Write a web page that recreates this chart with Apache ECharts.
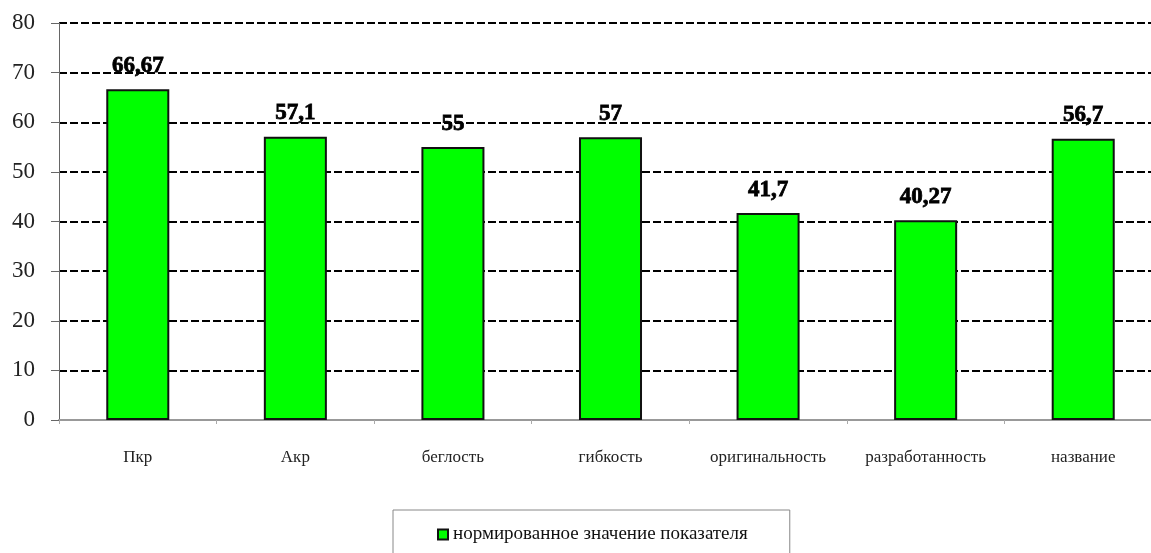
<!DOCTYPE html>
<html><head><meta charset="utf-8">
<script src="https://cdn.jsdelivr.net/npm/echarts@6/dist/echarts.min.js"></script>
<style>html,body{margin:0;padding:0;background:#fff}#c{width:1151px;height:553px}</style>
</head><body><div id="c"></div>
<script>
const categories = ['Пкр','Акр','беглость','гибкость','оригинальность','разработанность','название'];
const values = [66.67, 57.1, 55, 57, 41.7, 40.27, 56.7];
const valueLabels = ['66,67','57,1','55','57','41,7','40,27','56,7'];
const seriesName = 'нормированное значение показателя';

const chart = echarts.init(document.getElementById('c'));
chart.setOption({
  backgroundColor: '#fff',
  animation: false,
  grid: { left: 59, width: 1103, top: 23, bottom: 133, containLabel: false, outerBoundsMode: 'none' },
  legend: {
    top: 510, left: 393,
    data: [seriesName],
    itemWidth: 10, itemHeight: 10, itemGap: 4,
    padding: [15, 42, 20, 44],
    borderColor: '#888', borderWidth: 1,
    textStyle: { fontFamily: "'Liberation Serif', serif", fontSize: 19, color: '#111' },
    icon: 'rect'
  },
  xAxis: {
    type: 'category', data: categories,
    axisLine: { lineStyle: { color: '#999', width: 2 } },
    axisTick: { show: true, length: 4, lineStyle: { color: '#aaa' } },
    axisLabel: { interval: 0, fontFamily: "'Liberation Serif', serif", fontSize: 17, color: '#222', margin: 29 }
  },
  yAxis: {
    type: 'value', min: 0, max: 80, interval: 10,
    axisLine: { show: true, lineStyle: { color: '#666', width: 1 } },
    axisTick: { show: true, length: 8, lineStyle: { color: '#666' } },
    axisLabel: { fontFamily: "'Liberation Serif', serif", fontSize: 23, color: '#222', margin: 24 },
    splitLine: { show: true, showMinLine: false, lineStyle: { color: '#000', width: 2, type: [8, 3] } }
  },
  series: [{
    name: seriesName, type: 'bar', data: values, barWidth: '40%',
    itemStyle: { color: '#00ff00', borderColor: '#111', borderWidth: 2 },
    label: {
      show: true, position: 'top', distance: 12,
      fontFamily: "'Liberation Serif', serif", fontSize: 23, fontWeight: 'bold', color: '#000',
      textBorderColor: '#000', textBorderWidth: 0.8,
      formatter: p => valueLabels[p.dataIndex]
    }
  }]
});
</script></body></html>
